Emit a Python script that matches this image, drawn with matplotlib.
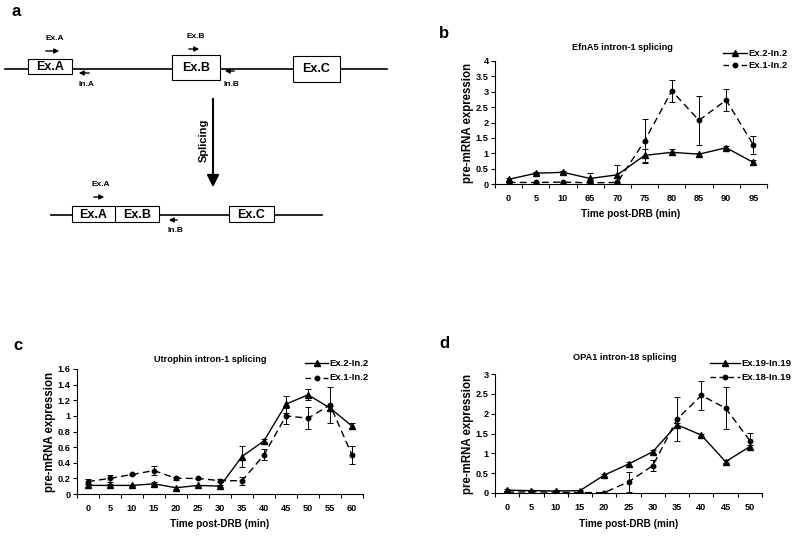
import matplotlib
matplotlib.use('Agg')
import matplotlib.pyplot as plt
from matplotlib.patches import Rectangle

plt.rcParams['font.family'] = ['Liberation Sans', 'DejaVu Sans']
plt.rcParams['font.weight'] = 'bold'
plt.rcParams['axes.labelweight'] = 'bold'
plt.rcParams['axes.titleweight'] = 'bold'

# ---- data ----
efn_times = ['0', '5', '10', '65', '70', '75', '80', '85', '90', '95']
efn_ex2 = [0.15, 0.35, 0.38, 0.18, 0.30, 0.93, 1.03, 0.97, 1.18, 0.70]
efn_ex2_err = [0.05, 0.03, 0.03, 0.17, 0.33, 0.20, 0.10, 0.05, 0.05, 0.07]
efn_ex1 = [0.05, 0.05, 0.06, 0.04, 0.05, 1.40, 3.03, 2.07, 2.73, 1.27]
efn_ex1_err = [0.02, 0.02, 0.02, 0.02, 0.02, 0.72, 0.35, 0.80, 0.36, 0.30]

utr_times = ['0', '5', '10', '15', '20', '25', '30', '35', '40', '45', '50', '55', '60']
utr_ex2 = [0.11, 0.11, 0.11, 0.13, 0.08, 0.11, 0.10, 0.48, 0.68, 1.15, 1.27, 1.10, 0.87]
utr_ex2_err = [0.02, 0.02, 0.01, 0.02, 0.01, 0.01, 0.01, 0.14, 0.02, 0.11, 0.07, 0.03, 0.04]
utr_ex1 = [0.16, 0.20, 0.25, 0.30, 0.20, 0.20, 0.17, 0.17, 0.50, 1.00, 0.97, 1.14, 0.50]
utr_ex1_err = [0.03, 0.04, 0.01, 0.06, 0.02, 0.01, 0.02, 0.05, 0.07, 0.10, 0.14, 0.23, 0.12]

opa_times = ['0', '5', '10', '15', '20', '25', '30', '35', '40', '45', '50']
opa_ex19 = [0.07, 0.06, 0.05, 0.06, 0.45, 0.73, 1.04, 1.72, 1.46, 0.79, 1.17]
opa_ex19_err = [0.03, 0.02, 0.02, 0.02, 0.03, 0.04, 0.05, 0.05, 0.03, 0.04, 0.05]
opa_ex18 = [0.02, 0.03, 0.02, 0.01, 0.01, 0.28, 0.69, 1.86, 2.46, 2.14, 1.32]
opa_ex18_err = [0.02, 0.02, 0.02, 0.01, 0.01, 0.25, 0.14, 0.55, 0.37, 0.53, 0.20]

W, H = 800, 538
fig = plt.figure(figsize=(8, 5.38), dpi=100)

# ---- panel a: schematic drawn in pixel coords ----
da = fig.add_axes([0, 0, 1, 1], zorder=0)
da.set_xlim(0, W)
da.set_ylim(H, 0)
da.axis('off')


def box(x0, x1, y0, y1, label, fs=9):
    da.add_patch(Rectangle((x0, y0), x1 - x0, y1 - y0, fc='white', ec='black', lw=0.8, zorder=3))
    if label:
        da.text((x0 + x1) / 2, (y0 + y1) / 2 + 0.5, label, ha='center', va='center', fontsize=fs, zorder=4)


def primer(x0, x1, y, label, ly):
    da.annotate('', xy=(x1, y), xytext=(x0, y),
                arrowprops=dict(arrowstyle='-|>', lw=1.0, color='black', mutation_scale=7))
    da.text((x0 + x1) / 2 + 2, ly, label, ha='center', va='center', fontsize=6)


da.plot([5, 387], [69, 69], color='black', lw=1.2, zorder=1)
box(28, 72, 59, 74, 'Ex.A')
box(172, 220, 55, 80, 'Ex.B')
box(293, 340, 56, 82, 'Ex.C')
primer(43, 62, 51, 'Ex.A', 39)
primer(92, 76, 73, 'In.A', 84)
primer(186, 202, 49, 'Ex.B', 37)
primer(237, 222, 71, 'In.B', 84)

da.annotate('', xy=(213, 190), xytext=(213, 96),
            arrowprops=dict(arrowstyle='-|>', lw=1.5, color='black', mutation_scale=18))
da.text(204, 140, 'Splicing', rotation=90, ha='center', va='center', fontsize=8)

da.plot([51, 322], [215, 215], color='black', lw=1.2, zorder=1)
box(72, 159, 206, 222, '')
da.plot([115, 115], [206, 222], color='black', lw=0.8, zorder=4)
da.text(93, 214.5, 'Ex.A', ha='center', va='center', fontsize=9, zorder=4)
da.text(137, 214.5, 'Ex.B', ha='center', va='center', fontsize=9, zorder=4)
box(229, 274, 206, 222, 'Ex.C')
primer(91, 107, 197, 'Ex.A', 185)
primer(180, 166, 220, 'In.B', 231)

for lbl, x, y in [('a', 12, 12), ('b', 439, 34), ('c', 13, 345), ('d', 439, 344)]:
    da.text(x, y, lbl, ha='left', va='center', fontsize=12)


# ---- line panels ----
def panel(box_px, cats, s1, e1, s2, e2, names, title, ymax, ystep, leg_px, title_px, xlab_y, ylab_x):
    left, right, top, bottom = box_px
    ax = fig.add_axes([left / W, 1 - bottom / H, (right - left) / W, (bottom - top) / H], zorder=2)
    ax.patch.set_alpha(0)
    x = list(range(len(cats)))
    ax.errorbar(x, s1, yerr=e1, color='black', lw=1.0, marker='^', ms=4,
                capsize=2.5, elinewidth=0.7, capthick=0.7)
    ax.errorbar(x, s2, yerr=e2, color='black', lw=1.0, ls=(0, (5, 3)), marker='o', ms=3.2,
                capsize=2.5, elinewidth=0.7, capthick=0.7)
    ax.set_xlim(-0.5, len(cats) - 0.5)
    ax.set_ylim(0, ymax)
    n = int(round(ymax / ystep))
    yt = [i * ystep for i in range(n + 1)]
    ax.set_yticks(yt)
    ax.set_yticklabels(['%g' % v for v in yt])
    ax.set_xticks(x)
    ax.set_xticklabels(cats)
    ax.set_xticks([i - 0.5 for i in range(len(cats) + 1)], minor=True)
    ax.tick_params(axis='x', which='major', length=0, pad=7.5, labelsize=6.6)
    ax.tick_params(axis='x', which='minor', length=3, width=0.8, direction='out')
    ax.tick_params(axis='y', length=3, width=0.8, labelsize=6.6, pad=1.5)
    for s in ['top', 'right']:
        ax.spines[s].set_visible(False)
    for s in ['left', 'bottom']:
        ax.spines[s].set_linewidth(0.8)
    ax.set_ylabel('pre-mRNA expression', fontsize=8.3)
    ax.yaxis.label.set_va('center')
    ax.yaxis.set_label_coords((ylab_x - left) / (right - left), 0.5)
    ax.set_xlabel('Time post-DRB (min)', fontsize=7.2)
    ax.xaxis.label.set_va('center')
    ax.xaxis.set_label_coords(0.5, (bottom - xlab_y) / (bottom - top))
    da.text(title_px[0], title_px[1], title, ha='center', va='center', fontsize=6.6, zorder=5)

    # legend drawn as in the original (line, marker, text), pixel coords
    lx0, lx1, ly1, ly2 = leg_px
    mx = (lx0 + lx1) / 2
    da.plot([lx0, lx1], [ly1, ly1], color='black', lw=1.0, zorder=5)
    da.plot([mx], [ly1], marker='^', color='black', ms=4, zorder=5)
    da.text(lx1 + 1, ly1, names[0], ha='left', va='center', fontsize=6.8, zorder=5)
    da.plot([lx0, lx1], [ly2, ly2], color='black', lw=1.0, ls=(0, (4, 2.5)), zorder=5)
    da.plot([mx], [ly2], marker='o', color='black', ms=3.2, zorder=5)
    da.text(lx1 + 1, ly2, names[1], ha='left', va='center', fontsize=6.8, zorder=5)
    return ax


panel((495, 767, 61, 184), efn_times, efn_ex2, efn_ex2_err, efn_ex1, efn_ex1_err,
      ['Ex.2-In.2', 'Ex.1-In.2'], 'EfnA5 intron-1 splicing', 4, 0.5, (723, 747, 53, 65),
      (622, 48), 214, 468)
panel((77, 363, 369, 494), utr_times, utr_ex2, utr_ex2_err, utr_ex1, utr_ex1_err,
      ['Ex.2-In.2', 'Ex.1-In.2'], 'Utrophin intron-1 splicing', 1.6, 0.2, (305, 328, 363, 378),
      (210, 359), 524, 50)
panel((495, 762, 374, 493), opa_times, opa_ex19, opa_ex19_err, opa_ex18, opa_ex18_err,
      ['Ex.19-In.19', 'Ex.18-In.19'], 'OPA1 intron-18 splicing', 3, 0.5, (710, 740, 363, 377),
      (625, 358), 524, 468)

fig.savefig('out.png', dpi=100)
